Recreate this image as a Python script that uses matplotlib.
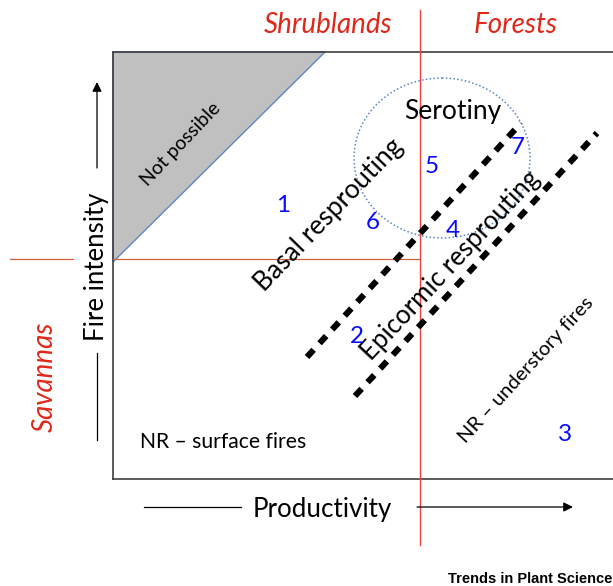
import matplotlib
matplotlib.use('Agg')
import matplotlib.pyplot as plt
from matplotlib.patches import Polygon, Ellipse

plt.rcParams['font.family'] = ['Lato', 'DejaVu Sans']

# %% ---------------------------------------------------------------
# diagram content (pixel coordinates of the 613 x 586 figure)

# outer box and dividing lines
box_x = [113, 613]
box_y = [52, 479]
divide_x = 420
divide_y = 259

# grey "not possible" corner
corner_x = [113, 325, 113]
corner_y = [52, 52, 262]

# serotiny ellipse: centre and extent
sero_centre = (442, 158)
sero_size = (176, 160)

# resprouting threshold lines (start, end)
basal_line_x = [307, 521]
basal_line_y = [357, 123]
epic_line_x = [355, 597]
epic_line_y = [396, 133]

# zone numbers
zone_labels = ['1', '2', '3', '4', '5', '6', '7']
zone_x = [283, 357, 565, 453, 432, 373, 518]
zone_y = [212, 343, 441, 237, 173, 229, 154]

# biome names
biome_labels = ['Shrublands', 'Forests', 'Savannas']
biome_x = [328, 516, 53]
biome_y = [33, 33, 377]

# %% ---------------------------------------------------------------
# figure
fig = plt.figure(figsize=(6.13, 5.86), dpi=100)
ax = fig.add_axes([0, 0, 1, 1])
ax.set_xlim(0, 613)
ax.set_ylim(586, 0)
ax.axis('off')

# grey triangle
ax.add_patch(Polygon(list(zip(corner_x, corner_y)), closed=True,
                     facecolor='#c0c0c0', edgecolor='#5b87c5', lw=1.0, zorder=1))

# box
ax.plot([box_x[0], box_x[1]], [box_y[0], box_y[0]], color='#404040', lw=1.2, zorder=2)
ax.plot([box_x[0], box_x[0]], [box_y[0], box_y[1]], color='#404040', lw=1.2, zorder=2)
ax.plot([box_x[0], box_x[1]], [box_y[1], box_y[1]], color='#404040', lw=1.2, zorder=2)

# red dividers
ax.plot([divide_x, divide_x], [10, 545], color='#f04040', lw=1.0, zorder=3)
ax.plot([113, divide_x], [divide_y, divide_y], color='#d0603c', lw=0.9, zorder=3)
ax.plot([10, 73], [divide_y, divide_y], color='#d0603c', lw=0.9, zorder=3)

# serotiny ellipse
ax.add_patch(Ellipse(sero_centre, sero_size[0], sero_size[1], fill=False,
                     edgecolor='#5b87c5', lw=1.1, linestyle=(0, (1, 1.5)), zorder=3))

# thick dotted lines
for lx, ly in [(basal_line_x, basal_line_y), (epic_line_x, epic_line_y)]:
    ax.plot(lx, ly, color='black', lw=4.4, dashes=(1.6, 1.45),
            dash_capstyle='butt', zorder=4)

# axis arrows
ax.plot([97, 97], [440, 353], color='black', lw=0.9)
ax.annotate('', xy=(97, 82), xytext=(97, 168),
            arrowprops=dict(arrowstyle='-|>', color='black', lw=0.9, mutation_scale=14,
                            shrinkA=0, shrinkB=0))
ax.text(104, 267, 'Fire intensity', rotation=90, ha='center', va='baseline',
        rotation_mode='anchor', fontsize=18.5)

ax.plot([144, 241], [507, 507], color='black', lw=0.9)
ax.annotate('', xy=(573, 507), xytext=(417, 507),
            arrowprops=dict(arrowstyle='-|>', color='black', lw=0.9, mutation_scale=14,
                            shrinkA=0, shrinkB=0))
ax.text(322, 517, 'Productivity', ha='center', va='baseline', fontsize=18.7)

# biome labels
for lab, bx, by in zip(biome_labels, biome_x, biome_y):
    rot = 90 if lab == 'Savannas' else 0
    ax.text(bx, by, lab, ha='center', va='baseline', rotation=rot, rotation_mode='anchor',
            fontsize=20, style='italic', color='#e0281a')

# zone numbers
for lab, zx, zy in zip(zone_labels, zone_x, zone_y):
    ax.text(zx, zy, lab, ha='center', va='baseline', fontsize=17.5, color='#0a0aff', zorder=5)

# other labels
ax.text(453, 119, 'Serotiny', ha='center', va='baseline', fontsize=19)
ax.text(329, 215, 'Basal resprouting', ha='center', va='center', rotation=46,
        rotation_mode='anchor', fontsize=19)
ax.text(451, 265, 'Epicormic resprouting', ha='center', va='center', rotation=47,
        rotation_mode='anchor', fontsize=18.5)
ax.text(526, 370, 'NR \u2013 understory fires', ha='center', va='center', rotation=47.5,
        rotation_mode='anchor', fontsize=14.5)
ax.text(223, 448, 'NR \u2013 surface fires', ha='center', va='baseline', fontsize=15.2)
ax.text(181, 144, 'Not possible', ha='center', va='center', rotation=46.5,
        rotation_mode='anchor', fontsize=14)

# journal tag
ax.text(612, 583, 'Trends in Plant Science', ha='right', va='baseline', fontsize=10.5,
        fontweight='bold', family=['Liberation Sans', 'DejaVu Sans'])

fig.savefig('out.png', dpi=100)
